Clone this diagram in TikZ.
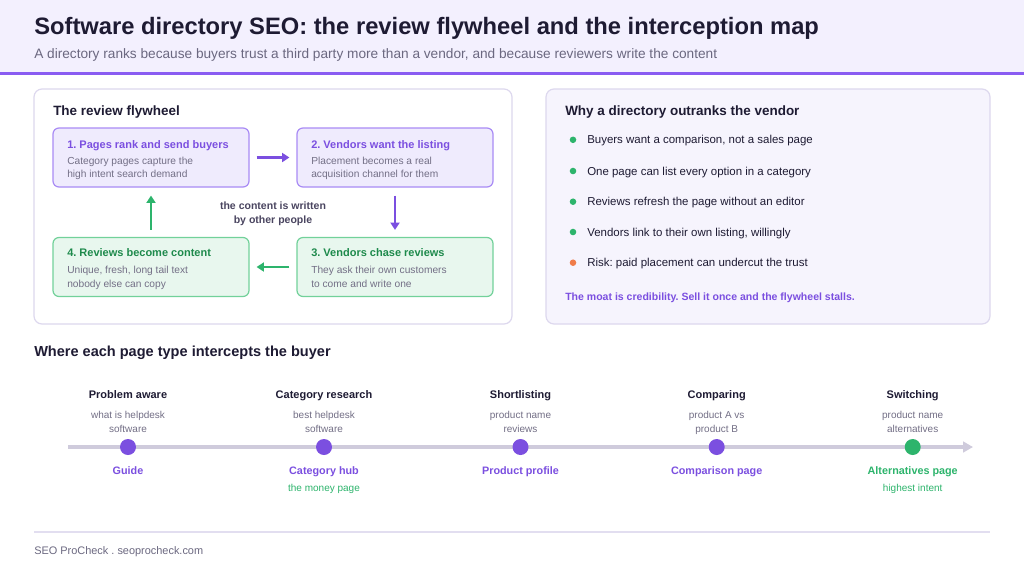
\documentclass[tikz,border=0pt]{standalone}
\usepackage{fontspec}
\setmainfont{Liberation Sans}
\usetikzlibrary{arrows.meta}
\frenchspacing
\definecolor{hdrfill}{HTML}{F3F0FE}
\definecolor{hdrline}{HTML}{8A5CF2}
\definecolor{ink}{HTML}{1E1B33}
\definecolor{subgray}{HTML}{6B6880}
\definecolor{descgray}{HTML}{736F86}
\definecolor{panelline}{HTML}{DDD8EE}
\definecolor{panelfill}{HTML}{F6F4FD}
\definecolor{purp}{HTML}{7B4FE0}
\definecolor{purpfill}{HTML}{EFEBFD}
\definecolor{purpline}{HTML}{A98BF5}
\definecolor{grn}{HTML}{2DB46C}
\definecolor{grndark}{HTML}{1E8A4C}
\definecolor{grnfill}{HTML}{E8F7EE}
\definecolor{grnline}{HTML}{72D19A}
\definecolor{orng}{HTML}{F07C4A}
\definecolor{midink}{HTML}{4A4560}
\definecolor{tlgray}{HTML}{CFCBDC}
\definecolor{footline}{HTML}{E2DEF0}
\tikzset{
  txt/.style={inner sep=0pt, anchor=base west},
  ctxt/.style={inner sep=0pt, anchor=base},
  fwpurp/.style={draw=purpline, fill=purpfill, line width=0.9pt, rounded corners=4.5pt, minimum width=147pt, minimum height=44.25pt, inner sep=0pt},
  fwgrn/.style={draw=grnline, fill=grnfill, line width=0.9pt, rounded corners=4.5pt, minimum width=147pt, minimum height=44.25pt, inner sep=0pt},
  fwarrow/.style={line width=1.6pt, -{Triangle[length=5.5pt,width=6.75pt]}, shorten <=5.25pt, shorten >=5.25pt},
  boxtitle/.style={txt, font=\fontsize{8.25pt}{10pt}\selectfont\bfseries},
  boxdesc/.style={txt, text=descgray, font=\fontsize{7.65pt}{9pt}\selectfont},
  sechead/.style={txt, text=ink, font=\fontsize{10.1pt}{12pt}\selectfont\bfseries},
  bullet/.style={circle, inner sep=0pt, minimum size=4.9pt},
  btxt/.style={txt, text=ink, font=\fontsize{8.6pt}{10pt}\selectfont},
  tldot/.style={circle, inner sep=0pt, minimum size=12pt},
  stage/.style={ctxt, text=ink, font=\fontsize{8.25pt}{10pt}\selectfont\bfseries},
  query/.style={ctxt, text=descgray, font=\fontsize{7.5pt}{9pt}\selectfont},
  ptype/.style={ctxt, font=\fontsize{8.1pt}{10pt}\selectfont\bfseries},
  pnote/.style={ctxt, text=grn, font=\fontsize{7.5pt}{9pt}\selectfont},
}
\begin{document}
\begin{tikzpicture}[x=0.75pt,y=-0.75pt]
\useasboundingbox (0,0) rectangle (1024,576);
\fill[white] (0,0) rectangle (1024,576);
% header
\fill[hdrfill] (0,0) rectangle (1024,73);
\draw[hdrline, line width=2.25pt] (0,73) -- (1024,73);
\node[txt, text=ink, font=\fontsize{17.8pt}{20pt}\selectfont\bfseries] (title) at (34,34) {Software directory SEO: the review flywheel and the interception map};
\node[txt, text=subgray, font=\fontsize{10.25pt}{12pt}\selectfont] (subtitle) at (34,58) {A directory ranks because buyers trust a third party more than a vendor, and because reviewers write the content};

% left panel
\draw[panelline, fill=white, line width=0.9pt, rounded corners=6pt] (34,89) rectangle (512,324);
\node[sechead] (lefthead) at (53,115) {The review flywheel};
\node[fwpurp] (b1) at (151,157.5) {};
\node[fwpurp] (b2) at (395,157.5) {};
\node[fwgrn] (b3) at (395,267) {};
\node[fwgrn] (b4) at (151,267) {};
\node[boxtitle, text=purp] (b1t) at (67,148.3) {1. Pages rank and send buyers};
\node[boxdesc] (b1d1) at (67,164) {Category pages capture the};
\node[boxdesc] (b1d2) at (67,177.7) {high intent search demand};
\node[boxtitle, text=purp] (b2t) at (311,148.3) {2. Vendors want the listing};
\node[boxdesc] (b2d1) at (311,164) {Placement becomes a real};
\node[boxdesc] (b2d2) at (311,177.7) {acquisition channel for them};
\node[boxtitle, text=grndark] (b3t) at (311,256.7) {3. Vendors chase reviews};
\node[boxdesc] (b3d1) at (311,273) {They ask their own customers};
\node[boxdesc] (b3d2) at (311,287) {to come and write one};
\node[boxtitle, text=grndark] (b4t) at (67,256.7) {4. Reviews become content};
\node[boxdesc] (b4d1) at (67,273) {Unique, fresh, long tail text};
\node[boxdesc] (b4d2) at (67,287) {nobody else can copy};
\draw[fwarrow, purp] (b1.east) -- (b2.west);
\draw[fwarrow, purp, shorten <=6pt] (b2.south) -- (b3.north);
\draw[fwarrow, grn] (b3.west) -- (b4.east);
\draw[fwarrow, grn, shorten >=6pt] (b4.north) -- (b1.south);
\node[ctxt, text=midink, font=\fontsize{7.9pt}{9.5pt}\selectfont\bfseries] (mid1) at (273,209.5) {the content is written};
\node[ctxt, text=midink, font=\fontsize{7.9pt}{9.5pt}\selectfont\bfseries] (mid2) at (273,223.5) {by other people};

% right panel
\draw[panelline, fill=panelfill, line width=0.9pt, rounded corners=6pt] (546,89) rectangle (990,324);
\node[sechead] (righthead) at (565,115) {Why a directory outranks the vendor};
\node[bullet, fill=grn] (d1) at (573,139.8) {};
\node[bullet, fill=grn] (d2) at (573,171) {};
\node[bullet, fill=grn] (d3) at (573,201.7) {};
\node[bullet, fill=grn] (d4) at (573,232) {};
\node[bullet, fill=orng] (d5) at (573,262.7) {};
\node[btxt] (r1) at (587,143.5) {Buyers want a comparison, not a sales page};
\node[btxt] (r2) at (587,175) {One page can list every option in a category};
\node[btxt] (r3) at (587,205.7) {Reviews refresh the page without an editor};
\node[btxt] (r4) at (587,236) {Vendors link to their own listing, willingly};
\node[btxt] (r5) at (587,266.7) {Risk: paid placement can undercut the trust};
\node[txt, text=purp, font=\fontsize{7.9pt}{9.5pt}\selectfont\bfseries] (moat) at (565,300.5) {The moat is credibility. Sell it once and the flywheel stalls.};

% timeline
\node[txt, text=ink, font=\fontsize{10.9pt}{13pt}\selectfont\bfseries] (tlhead) at (34,356.7) {Where each page type intercepts the buyer};
\coordinate (tlstart) at (68,447);
\coordinate (tlend) at (973,447);
\draw[tlgray, line width=2.4pt, -{Triangle[length=7.5pt,width=8pt]}] (tlstart) -- (tlend);
\foreach \x/\nm/\st/\qa/\qb/\pt/\col in {
  128/s1/Problem aware/what is helpdesk/software/Guide/purp,
  324/s2/Category research/best helpdesk/software/Category hub/purp,
  520.5/s3/Shortlisting/product name/reviews/Product profile/purp,
  716.7/s4/Comparing/product A vs/product B/Comparison page/purp,
  912.7/s5/Switching/product name/alternatives/Alternatives page/grn}{
  \node[tldot, fill=\col] (\nm) at (\x,447) {};
  \node[stage] (\nm st) at (\x,398) {\st};
  \node[query] (\nm qa) at (\x,418.3) {\qa};
  \node[query] (\nm qb) at (\x,432) {\qb};
  \node[ptype, text=\col] (\nm pt) at (\x,474.7) {\pt};
}
\node[pnote] (n2) at (324,491.5) {the money page};
\node[pnote] (n5) at (912.7,491.5) {highest intent};

% footer
\draw[footline, line width=0.9pt] (34,532) -- (990,532);
\node[txt, text=subgray, font=\fontsize{8.2pt}{9.5pt}\selectfont] (foot) at (34,554.5) {SEO ProCheck . seoprocheck.com};
\end{tikzpicture}
\end{document}
